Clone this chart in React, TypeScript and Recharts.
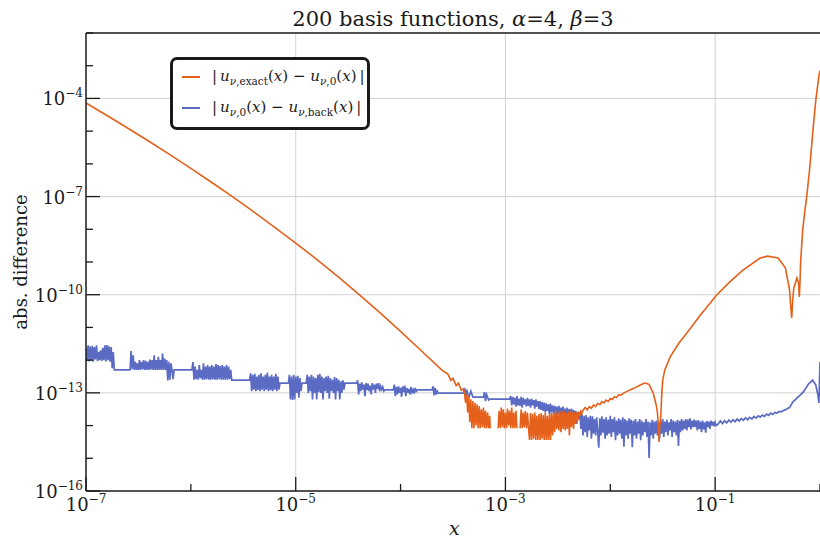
import { Legend, Line, LineChart, ReferenceLine, XAxis, YAxis } from 'recharts';

// all values are log10(x), log10(abs. difference)
type Pt = [number, number | null];

const xTicks = [-7, -6, -5, -4, -3, -2, -1, 0];
const yTicks = [-16, -15, -14, -13, -12, -11, -10, -9, -8, -7, -6, -5, -4, -3, -2];
const xGrid = [-5, -3, -1];
const yGrid = [-13, -10, -7, -4];

const orangeDecay: Pt[] = [
  [-7.0, -4.14], [-6.8, -4.52], [-6.6, -4.91], [-6.4, -5.31], [-6.2, -5.72], [-6.0, -6.14],
  [-5.8, -6.57], [-5.6, -7.01], [-5.4, -7.47], [-5.2, -7.94], [-5.0, -8.42], [-4.8, -8.92],
  [-4.6, -9.44], [-4.4, -9.98], [-4.2, -10.54], [-4.0, -11.12], [-3.8, -11.72], [-3.6, -12.32],
  [-3.55, -12.42], [-3.52, -12.62], [-3.5, -12.56], [-3.47, -12.78], [-3.45, -12.7], [-3.42, -12.92],
  [-3.4, -12.88],
];

const orangeNoise: Pt[] = [
  [-3.39, -13.0], [-3.38, -13.3], [-3.37, -13.05], [-3.36, -13.6], [-3.35, -13.1], [-3.34, -13.9],
  [-3.33, -13.2], [-3.32, -14.08], [-3.31, -13.25], [-3.3, -14.08], [-3.29, -13.3], [-3.28, -14.0],
  [-3.27, -13.35], [-3.26, -14.08], [-3.25, -13.4], [-3.24, -14.08], [-3.23, -13.5], [-3.22, -14.05],
  [-3.21, -13.45], [-3.2, -14.08], [-3.19, -13.55], [-3.18, -14.08], [-3.17, -13.6], [-3.16, -14.08],
  [-3.15, -13.7], [-3.145, -14.08],
  [-3.11, null],
  [-3.07, -14.08], [-3.06, -13.55], [-3.05, -14.08], [-3.04, -13.45], [-3.03, -14.05], [-3.02, -13.5],
  [-3.01, -14.08], [-3.0, -13.6], [-2.99, -14.08], [-2.98, -13.48], [-2.97, -14.0], [-2.96, -13.55],
  [-2.95, -14.08], [-2.94, -13.45], [-2.93, -14.08], [-2.92, -13.6], [-2.91, -14.08], [-2.9, -13.55],
  [-2.89, -14.08],
  [-2.875, null],
  [-2.86, -14.08], [-2.85, -13.5], [-2.84, -14.08], [-2.83, -13.6], [-2.82, -14.05], [-2.81, -13.55],
  [-2.8, -14.08], [-2.79, -13.6], [-2.78, -14.08],
  [-2.77, -14.44], [-2.76, -13.62], [-2.75, -14.44], [-2.74, -13.65], [-2.73, -14.4], [-2.72, -13.6],
  [-2.71, -14.44], [-2.7, -13.7], [-2.69, -14.44], [-2.68, -13.65], [-2.67, -14.44], [-2.66, -13.62],
  [-2.65, -14.4], [-2.64, -13.68], [-2.63, -14.44], [-2.62, -13.6], [-2.61, -14.44], [-2.6, -13.7],
  [-2.59, -14.44], [-2.58, -13.65], [-2.57, -14.44], [-2.56, -13.62], [-2.55, -14.3],
  [-2.54, -13.6], [-2.53, -14.2], [-2.52, -13.55], [-2.51, -14.1], [-2.5, -13.6], [-2.49, -14.15],
  [-2.48, -13.55], [-2.47, -14.2], [-2.46, -13.58], [-2.45, -14.1], [-2.44, -13.55], [-2.43, -14.15],
  [-2.42, -13.62], [-2.41, -14.1], [-2.4, -13.58], [-2.39, -14.3], [-2.38, -13.55], [-2.37, -14.05],
  [-2.36, -13.6], [-2.35, -14.1], [-2.34, -13.58], [-2.33, -13.95], [-2.32, -13.6], [-2.31, -13.85],
  [-2.3, -13.58], [-2.29, -13.7], [-2.28, -13.56], [-2.27, -13.62],
];

const orangeRise: Pt[] = [
  [-2.26, -13.53], [-2.24, -13.45], [-2.22, -13.52], [-2.2, -13.42], [-2.18, -13.47], [-2.16, -13.37],
  [-2.14, -13.42], [-2.12, -13.32], [-2.1, -13.36], [-2.08, -13.27], [-2.06, -13.31], [-2.04, -13.22],
  [-2.02, -13.26], [-2.0, -13.17], [-1.98, -13.2], [-1.96, -13.12], [-1.94, -13.14], [-1.92, -13.06],
  [-1.9, -13.07], [-1.87, -13.0], [-1.83, -12.94], [-1.79, -12.88], [-1.76, -12.84], [-1.71, -12.75],
  [-1.67, -12.7], [-1.63, -12.74], [-1.59, -13.01], [-1.56, -13.4], [-1.55, -13.62],
  [-1.54, -14.0], [-1.535, -14.5], [-1.528, -14.0], [-1.52, -13.83], [-1.51, -13.1], [-1.5, -12.61],
  [-1.48, -12.3], [-1.43, -11.91], [-1.35, -11.5], [-1.27, -11.17], [-1.14, -10.62], [-0.985, -10.01],
  [-0.86, -9.61], [-0.735, -9.25], [-0.57, -8.88], [-0.5, -8.82], [-0.4, -8.88], [-0.33, -9.18],
  [-0.29, -9.86], [-0.28, -10.32], [-0.27, -10.71], [-0.26, -10.16], [-0.25, -9.8], [-0.22, -9.49],
  [-0.205, -9.64], [-0.197, -10.07], [-0.19, -9.55], [-0.185, -9.03], [-0.175, -8.5], [-0.165, -8.02],
  [-0.145, -7.45], [-0.127, -7.01], [-0.1, -6.2], [-0.067, -4.97], [-0.04, -4.05], [-0.01, -3.3],
  [0, -3.15],
];

const blueStairs: Pt[] = [
  [-7.0, -11.62], [-6.99, -12.02], [-6.98, -11.55], [-6.97, -12.04], [-6.96, -11.58], [-6.95, -12.0],
  [-6.94, -11.56], [-6.93, -12.05], [-6.92, -11.6], [-6.91, -11.98], [-6.9, -11.55], [-6.89, -12.03],
  [-6.88, -11.75], [-6.87, -12.0], [-6.86, -11.7], [-6.85, -12.02], [-6.84, -11.62], [-6.83, -12.0],
  [-6.82, -11.55], [-6.81, -12.04], [-6.8, -11.54], [-6.79, -12.0], [-6.78, -11.58], [-6.77, -12.05],
  [-6.76, -11.6], [-6.75, -12.25], [-6.74, -11.75], [-6.73, -12.3],
  [-6.58, -12.3], [-6.57, -11.72], [-6.56, -12.28], [-6.55, -11.85], [-6.54, -12.3], [-6.53, -12.05],
  [-6.52, -12.3], [-6.51, -12.1], [-6.5, -12.3], [-6.49, -12.0], [-6.48, -12.3], [-6.47, -12.05],
  [-6.46, -12.28], [-6.45, -12.0], [-6.44, -12.3], [-6.43, -12.02], [-6.42, -12.3], [-6.41, -12.05],
  [-6.4, -12.3], [-6.39, -11.98], [-6.38, -12.28], [-6.37, -12.0], [-6.36, -12.3], [-6.35, -11.85],
  [-6.34, -12.3], [-6.33, -12.0], [-6.32, -12.3], [-6.31, -11.9], [-6.3, -12.3], [-6.29, -12.0],
  [-6.28, -12.3], [-6.27, -11.8], [-6.26, -12.3], [-6.25, -11.95], [-6.24, -12.3], [-6.23, -12.0],
  [-6.22, -12.62], [-6.21, -12.05], [-6.2, -12.6], [-6.19, -12.1], [-6.18, -12.3], [-6.17, -12.58],
  [-6.16, -12.3],
  [-5.99, -12.3], [-5.98, -12.06], [-5.97, -12.6], [-5.96, -12.2], [-5.95, -12.58], [-5.94, -12.3],
  [-5.93, -12.6], [-5.92, -12.15], [-5.91, -12.55], [-5.9, -12.3], [-5.89, -12.6], [-5.88, -12.1],
  [-5.87, -12.6], [-5.86, -12.2], [-5.85, -12.58], [-5.84, -12.15], [-5.83, -12.6], [-5.82, -12.2],
  [-5.81, -12.6], [-5.8, -12.15], [-5.79, -12.58], [-5.78, -12.2], [-5.77, -12.6], [-5.76, -12.12],
  [-5.75, -12.6], [-5.74, -12.15], [-5.73, -12.58], [-5.72, -12.18], [-5.71, -12.6], [-5.7, -12.15],
  [-5.69, -12.6], [-5.68, -12.2], [-5.67, -12.6], [-5.66, -12.15], [-5.65, -12.6], [-5.64, -12.2],
  [-5.63, -12.58], [-5.62, -12.3], [-5.61, -12.61],
  [-5.44, -12.61], [-5.43, -12.4], [-5.42, -12.95], [-5.41, -12.45], [-5.4, -12.9], [-5.39, -12.42],
  [-5.38, -12.95], [-5.37, -12.5], [-5.36, -12.92], [-5.35, -12.45], [-5.34, -12.95], [-5.33, -12.4],
  [-5.32, -12.9], [-5.31, -12.5], [-5.3, -12.95], [-5.29, -12.45], [-5.28, -12.9], [-5.27, -12.38],
  [-5.26, -12.95], [-5.25, -12.5], [-5.24, -12.92], [-5.23, -12.45], [-5.22, -12.95], [-5.21, -12.5],
  [-5.2, -12.9], [-5.19, -12.42], [-5.18, -12.95], [-5.17, -12.5], [-5.16, -12.9], [-5.15, -12.7],
  [-5.07, -12.7], [-5.06, -12.45], [-5.05, -13.2], [-5.04, -12.5], [-5.03, -13.22], [-5.02, -12.45],
  [-5.01, -13.2], [-5.0, -12.5], [-4.99, -13.0], [-4.98, -12.48], [-4.97, -13.15], [-4.96, -12.55],
  [-4.95, -12.95], [-4.94, -12.7], [-4.9, -12.7], [-4.89, -12.45], [-4.88, -13.0], [-4.87, -12.5],
  [-4.86, -12.95], [-4.85, -12.45], [-4.84, -13.2], [-4.83, -12.5], [-4.82, -13.0], [-4.81, -12.55],
  [-4.8, -13.2], [-4.79, -12.45], [-4.78, -12.98], [-4.77, -12.42], [-4.76, -13.0], [-4.75, -12.5],
  [-4.74, -13.2], [-4.73, -12.55], [-4.72, -12.95], [-4.71, -12.5], [-4.7, -13.0], [-4.69, -12.48],
  [-4.68, -13.18], [-4.67, -12.55], [-4.66, -12.95], [-4.65, -12.6], [-4.64, -13.0], [-4.63, -12.52],
  [-4.62, -13.2], [-4.61, -12.55], [-4.6, -12.95], [-4.59, -12.6], [-4.58, -13.2], [-4.57, -12.65],
  [-4.56, -13.0], [-4.55, -12.62], [-4.54, -12.9], [-4.53, -12.7],
  [-4.42, -12.7], [-4.41, -12.62], [-4.4, -13.05], [-4.39, -12.72], [-4.38, -12.95], [-4.37, -12.68],
  [-4.36, -12.9], [-4.35, -12.75], [-4.34, -13.1], [-4.33, -12.7], [-4.32, -12.92], [-4.31, -12.72],
  [-4.3, -12.95], [-4.29, -12.78], [-4.28, -13.05], [-4.27, -12.7], [-4.26, -12.9], [-4.25, -12.75],
  [-4.24, -13.0], [-4.23, -12.72], [-4.22, -12.88], [-4.21, -12.7], [-4.2, -12.95], [-4.19, -12.8],
  [-4.18, -12.9], [-4.17, -12.82], [-4.16, -12.95], [-4.15, -12.91],
  [-4.07, -12.91], [-4.06, -12.75], [-4.05, -13.1], [-4.04, -12.82], [-4.03, -13.05], [-4.02, -12.8],
  [-4.01, -13.0], [-4.0, -12.85], [-3.99, -13.12], [-3.98, -12.8], [-3.97, -12.98], [-3.96, -12.78],
  [-3.95, -13.1], [-3.94, -12.85], [-3.93, -13.0], [-3.92, -12.88], [-3.91, -13.05], [-3.9, -12.82],
  [-3.89, -12.98], [-3.88, -12.9], [-3.87, -13.02], [-3.86, -12.85], [-3.85, -12.95], [-3.84, -12.91],
  [-3.7, -12.91], [-3.69, -12.8], [-3.68, -13.08], [-3.67, -12.85], [-3.66, -13.05], [-3.65, -12.95],
  [-3.64, -13.01],
  [-3.4, -13.01], [-3.39, -12.85], [-3.38, -13.2], [-3.37, -12.9], [-3.35, -13.15], [-3.33, -12.95],
  [-3.31, -13.13],
  [-3.21, -13.13], [-3.2, -12.98], [-3.19, -13.25], [-3.18, -13.05], [-3.16, -13.22], [-3.15, -13.19],
];

const blueNoise: Pt[] = [
  [-2.96, -13.19], [-2.95, -13.1], [-2.94, -13.38], [-2.93, -13.12], [-2.92, -13.35], [-2.91, -13.15],
  [-2.9, -13.42], [-2.89, -13.1], [-2.88, -13.38], [-2.87, -13.18], [-2.86, -13.4], [-2.85, -13.12],
  [-2.84, -13.45], [-2.83, -13.15], [-2.82, -13.36], [-2.81, -13.2], [-2.8, -13.42], [-2.79, -13.15],
  [-2.78, -13.4], [-2.77, -13.2], [-2.76, -13.45], [-2.75, -13.18], [-2.74, -13.38], [-2.73, -13.22],
  [-2.72, -13.48], [-2.71, -13.2], [-2.7, -13.42], [-2.69, -13.25], [-2.68, -13.5], [-2.67, -13.25],
  [-2.66, -13.52], [-2.65, -13.28], [-2.64, -13.55], [-2.63, -13.3], [-2.62, -13.6], [-2.61, -13.32],
  [-2.6, -13.55], [-2.59, -13.35], [-2.58, -13.65], [-2.57, -13.33], [-2.56, -13.6], [-2.55, -13.38],
  [-2.54, -13.62], [-2.53, -13.4], [-2.52, -13.7], [-2.51, -13.42], [-2.5, -13.65], [-2.49, -13.4],
  [-2.48, -13.72], [-2.47, -13.45], [-2.46, -13.68], [-2.45, -13.42], [-2.44, -13.75], [-2.43, -13.48],
  [-2.42, -13.7], [-2.41, -13.45], [-2.4, -13.78], [-2.39, -13.5], [-2.38, -13.72], [-2.37, -13.48],
  [-2.36, -13.85], [-2.35, -13.52], [-2.34, -13.75], [-2.33, -13.55], [-2.32, -13.95], [-2.31, -13.58],
  [-2.3, -13.8], [-2.29, -13.62],
  [-2.28, -14.1], [-2.27, -13.65], [-2.26, -14.3], [-2.25, -13.7], [-2.24, -14.2], [-2.23, -13.68],
  [-2.22, -14.35], [-2.21, -13.75], [-2.2, -14.15], [-2.19, -13.7], [-2.18, -14.4], [-2.17, -13.72],
  [-2.16, -14.25], [-2.15, -13.8], [-2.14, -14.3], [-2.13, -13.75], [-2.12, -14.2], [-2.11, -14.68],
  [-2.1, -13.78], [-2.09, -14.3], [-2.08, -13.72], [-2.07, -14.22], [-2.06, -13.8], [-2.05, -14.4],
  [-2.04, -13.75], [-2.03, -14.3], [-2.02, -13.82], [-2.01, -14.25], [-2.0, -13.7], [-1.99, -14.35],
  [-1.98, -13.8], [-1.97, -14.2], [-1.96, -13.75], [-1.95, -14.45], [-1.94, -13.85], [-1.93, -14.3],
  [-1.92, -13.78], [-1.91, -14.25], [-1.9, -13.82], [-1.89, -14.4], [-1.88, -13.75], [-1.87, -14.65],
  [-1.86, -13.8], [-1.85, -14.3], [-1.84, -13.85], [-1.83, -14.4], [-1.82, -13.78], [-1.81, -14.25],
  [-1.8, -13.82], [-1.79, -14.66], [-1.78, -13.85], [-1.77, -14.3], [-1.76, -13.8], [-1.75, -14.4],
  [-1.74, -13.88], [-1.73, -14.25], [-1.72, -13.8], [-1.71, -14.45], [-1.7, -13.85], [-1.69, -14.3],
  [-1.68, -13.9], [-1.67, -14.2], [-1.66, -13.8], [-1.65, -14.35], [-1.64, -13.88], [-1.63, -14.99],
  [-1.62, -13.9], [-1.61, -14.3], [-1.6, -13.82], [-1.59, -14.4], [-1.58, -13.88], [-1.57, -14.25],
  [-1.56, -13.85], [-1.55, -14.3], [-1.54, -13.9], [-1.53, -14.4], [-1.52, -13.85], [-1.51, -14.25],
  [-1.5, -13.8], [-1.49, -14.35], [-1.48, -13.88], [-1.47, -14.2], [-1.46, -13.82], [-1.45, -14.3],
  [-1.44, -13.9], [-1.43, -14.15], [-1.42, -13.8], [-1.41, -14.35], [-1.4, -13.85], [-1.39, -14.2],
  [-1.38, -13.88], [-1.37, -14.3], [-1.36, -13.82], [-1.35, -14.62], [-1.34, -13.85], [-1.33, -14.2],
  [-1.32, -13.8], [-1.31, -14.15], [-1.3, -13.85], [-1.29, -14.1], [-1.28, -13.8], [-1.27, -14.15],
  [-1.26, -13.82], [-1.25, -14.05], [-1.24, -13.78], [-1.23, -14.12], [-1.22, -13.85], [-1.21, -14.05],
  [-1.2, -13.82], [-1.19, -14.05],
  [-1.18, -13.85], [-1.17, -14.15], [-1.16, -13.83], [-1.15, -14.1], [-1.14, -13.88], [-1.13, -14.2],
  [-1.12, -13.85], [-1.11, -14.12], [-1.1, -13.9], [-1.09, -14.22], [-1.08, -13.86], [-1.07, -14.05],
  [-1.06, -13.88], [-1.05, -14.1], [-1.04, -13.85], [-1.03, -14.0], [-1.02, -13.88], [-1.01, -14.02],
  [-1.0, -13.9], [-0.99, -14.0],
];

const blueTail: Pt[] = [
  [-0.97, -13.95], [-0.95, -13.86], [-0.93, -13.94], [-0.91, -13.85], [-0.89, -13.92], [-0.87, -13.83],
  [-0.85, -13.9], [-0.83, -13.82], [-0.81, -13.88], [-0.79, -13.8], [-0.77, -13.86], [-0.75, -13.78],
  [-0.73, -13.84], [-0.71, -13.76], [-0.69, -13.82], [-0.67, -13.75], [-0.65, -13.8], [-0.63, -13.72],
  [-0.61, -13.77], [-0.59, -13.7], [-0.57, -13.74], [-0.55, -13.68], [-0.53, -13.72], [-0.51, -13.65],
  [-0.49, -13.69], [-0.47, -13.62], [-0.45, -13.66], [-0.43, -13.6], [-0.41, -13.62], [-0.39, -13.57],
  [-0.37, -13.58], [-0.35, -13.54], [-0.33, -13.52], [-0.31, -13.48], [-0.29, -13.45], [-0.28, -13.4],
  [-0.26, -13.28], [-0.21, -13.13], [-0.16, -12.98], [-0.11, -12.73], [-0.07, -12.61], [-0.04, -12.76],
  [-0.02, -13.07], [-0.01, -13.31], [0, -12.06],
];

const ORANGE = '#e5601a';
const BLUE = '#5b6bc3';
const INK = '#1a1a1a';
const FONT = '"DejaVu Serif", "Liberation Serif", serif';

const toSeries = (pts: Pt[]) => pts.map(([x, y]) => ({ x, y }));
const orangeData = toSeries([...orangeDecay, ...orangeNoise, ...orangeRise]);
const blueData = toSeries([...blueStairs, ...blueNoise, ...blueTail]);

const Pow = ({ x, y, exp, anchor }: any) => (
  <text x={x} y={y} textAnchor={anchor} fontFamily={FONT} fontSize={18} fill={INK}>
    10<tspan dy={-8} fontSize={12}>{`−${Math.abs(exp)}`}</tspan>
  </text>
);

const BottomTick = ({ x, y, payload }: any) => {
  const major = (payload.value + 7) % 2 === 0;
  return (
    <g>
      <line x1={x} y1={y} x2={x} y2={y - (major ? 14 : 7)} stroke={INK} strokeWidth={1.3} />
      {major && <Pow x={x} y={y + 20} exp={payload.value} anchor="middle" />}
    </g>
  );
};

const TopTick = ({ x, y, payload }: any) => {
  const major = (payload.value + 7) % 2 === 0;
  return <line x1={x} y1={y} x2={x} y2={y + (major ? 14 : 7)} stroke={INK} strokeWidth={1.3} />;
};

const LeftTick = ({ x, y, payload }: any) => {
  const major = (payload.value + 16) % 3 === 0;
  return (
    <g>
      <line x1={x} y1={y} x2={x + (major ? 14 : 7)} y2={y} stroke={INK} strokeWidth={1.3} />
      {major && <Pow x={x - 3} y={y + 7} exp={payload.value} anchor="end" />}
    </g>
  );
};

const RightTick = ({ x, y, payload }: any) => {
  const major = (payload.value + 16) % 3 === 0;
  return <line x1={x} y1={y} x2={x - (major ? 14 : 7)} y2={y} stroke={INK} strokeWidth={1.3} />;
};

const sub = { fontSize: 10.5, position: 'relative' as const, top: 4, fontStyle: 'normal' };

const LegendBox = () => (
  <div style={{ width: 194, height: 67, border: `3px solid ${INK}`, borderRadius: 7, background: '#fff', position: 'relative', fontFamily: FONT, fontSize: 15, color: INK }}>
    {[
      { color: ORANGE, a: 'exact', b: '0' },
      { color: BLUE, a: '0', b: 'back' },
    ].map((row, i) => (
      <div key={i} style={{ position: 'absolute', left: 0, top: 4 + i * 31, height: 26, width: 194 }}>
        <div style={{ position: 'absolute', left: 9, top: 12, width: 18, height: 2, background: row.color }} />
        <div style={{ position: 'absolute', left: 39, top: 1, whiteSpace: 'nowrap', lineHeight: '22px' }}>
          |&thinsp;<i>u</i><span style={sub}><i>ν</i>,{row.a}</span>(<i>x</i>) − <i>u</i><span style={sub}><i>ν</i>,{row.b}</span>(<i>x</i>)&thinsp;|
        </div>
      </div>
    ))}
  </div>
);

export default function App() {
  return (
    <div style={{ position: 'absolute', left: 0, top: 0, width: 820, height: 541, background: '#fff', overflow: 'hidden' }}>
      <div style={{ position: 'absolute', left: 86, width: 734, top: 6, textAlign: 'center', fontFamily: FONT, fontSize: 21, color: INK, lineHeight: '26px' }}>
        200 basis functions, <i>α</i>=4, <i>β</i>=3
      </div>
      <div style={{ position: 'absolute', left: 20, top: 262, transform: 'translate(-50%, -50%) rotate(-90deg)', whiteSpace: 'nowrap', fontFamily: FONT, fontSize: 18, color: INK }}>
        abs. difference
      </div>
      <div style={{ position: 'absolute', left: 449, top: 518, fontFamily: FONT, fontSize: 19, fontStyle: 'italic', color: INK, lineHeight: '20px' }}>x</div>
      <LineChart width={820} height={541} margin={{ top: 33, right: 0, bottom: 0, left: 0 }} style={{ position: 'absolute', left: 0, top: 0 }}>
        <XAxis xAxisId="b" type="number" dataKey="x" domain={[-7, 0]} ticks={xTicks} interval={0} allowDataOverflow
          height={50} tickSize={0} tickMargin={0} tick={<BottomTick />} axisLine={{ stroke: INK, strokeWidth: 1.5 }} />
        <XAxis xAxisId="t" orientation="top" type="number" dataKey="x" domain={[-7, 0]} ticks={xTicks} interval={0} allowDataOverflow
          height={0} tickSize={0} tickMargin={0} tick={<TopTick />} axisLine={{ stroke: INK, strokeWidth: 1.5 }} />
        <YAxis yAxisId="l" type="number" domain={[-16, -2]} ticks={yTicks} interval={0} allowDataOverflow
          width={86} tickSize={0} tickMargin={0} tick={<LeftTick />} axisLine={{ stroke: INK, strokeWidth: 1.5 }} />
        <YAxis yAxisId="r" orientation="right" type="number" domain={[-16, -2]} ticks={yTicks} interval={0} allowDataOverflow
          width={0} tickSize={0} tickMargin={0} tick={<RightTick />} axisLine={false} />
        {xGrid.map((v) => (
          <ReferenceLine key={`gx${v}`} xAxisId="b" yAxisId="l" x={v} stroke="#d2d2d2" strokeWidth={1} />
        ))}
        {yGrid.map((v) => (
          <ReferenceLine key={`gy${v}`} xAxisId="b" yAxisId="l" y={v} stroke="#d2d2d2" strokeWidth={1} />
        ))}
        <ReferenceLine xAxisId="b" yAxisId="l" y={-2} stroke={INK} strokeWidth={1.5} />
        <Legend layout="vertical" align="center" verticalAlign="middle" content={() => <LegendBox />}
          wrapperStyle={{ left: 170, top: 57, width: 200 }} />
        <Line xAxisId="b" yAxisId="l" data={blueData} dataKey="y" type="linear" stroke={BLUE} strokeWidth={1.7}
          dot={false} activeDot={false} isAnimationActive={false} connectNulls={false} />
        <Line xAxisId="b" yAxisId="l" data={orangeData} dataKey="y" type="linear" stroke={ORANGE} strokeWidth={1.6}
          dot={false} activeDot={false} isAnimationActive={false} connectNulls={false} />
      </LineChart>
    </div>
  );
}
